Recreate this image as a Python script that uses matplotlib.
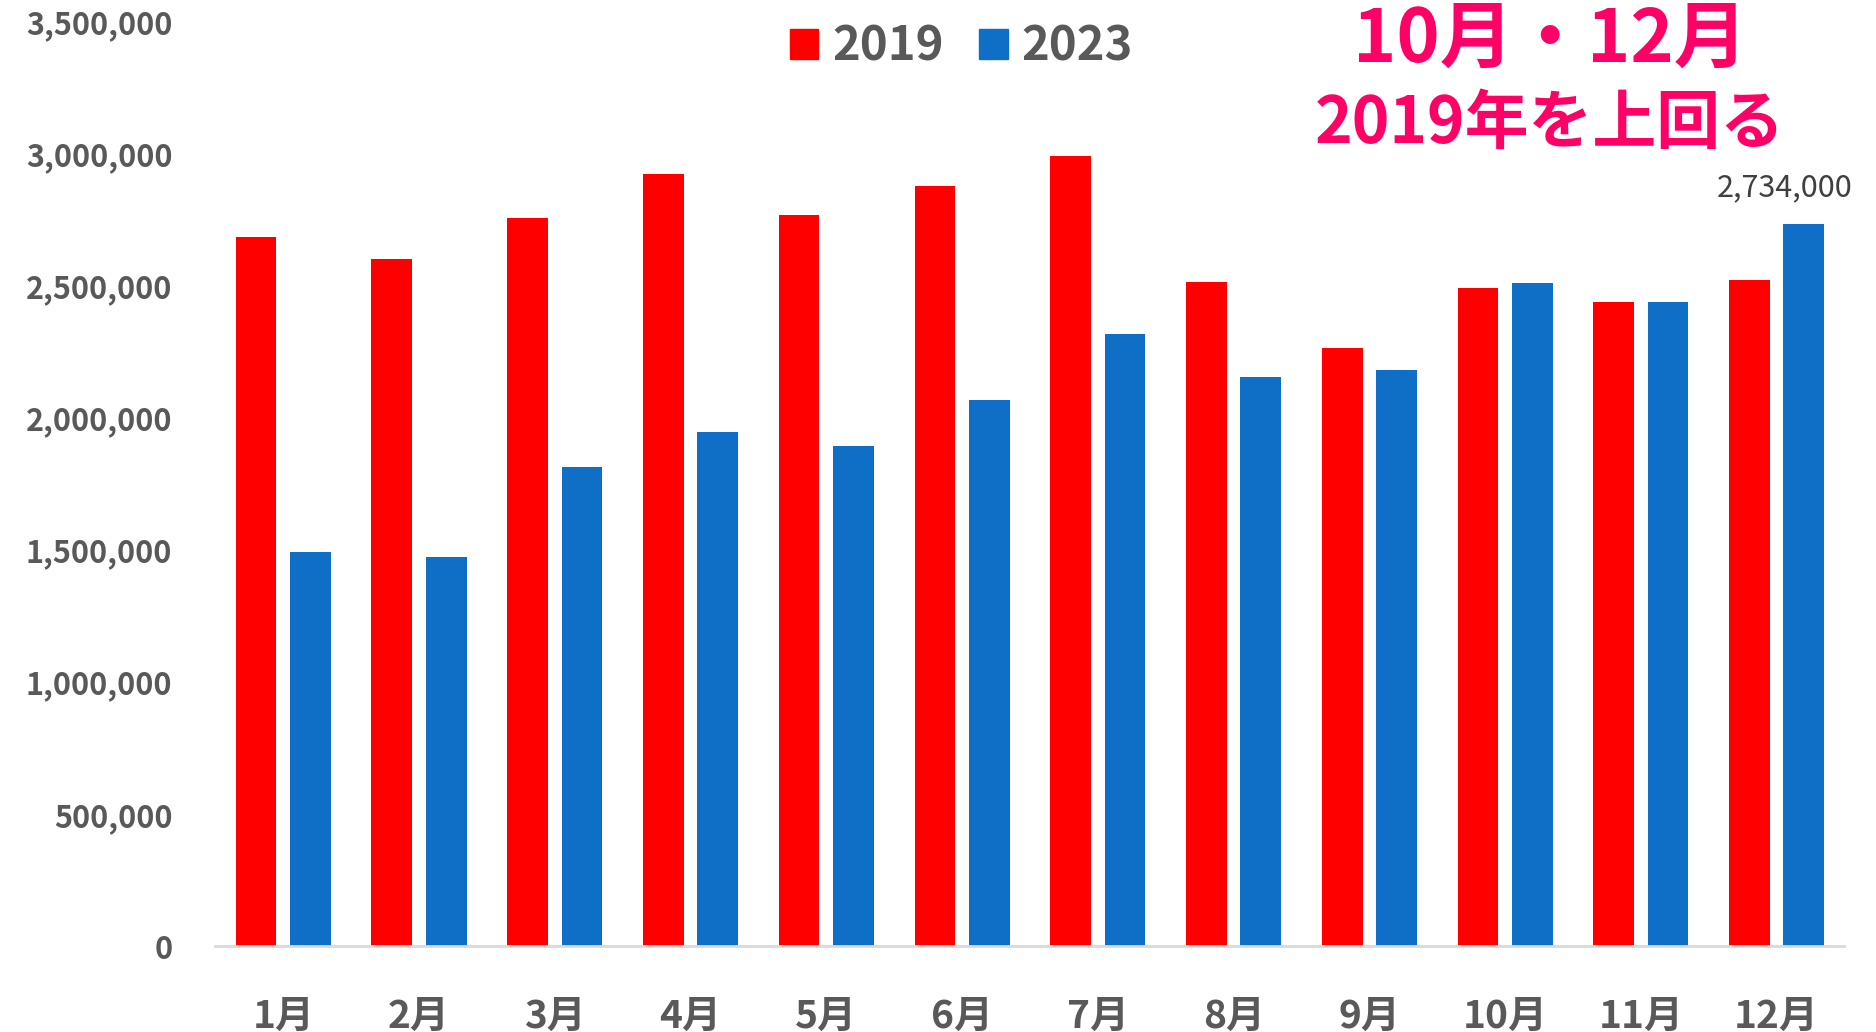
import matplotlib
matplotlib.use("Agg")
import matplotlib.pyplot as plt
import numpy as np
from matplotlib.ticker import FuncFormatter
from matplotlib.patches import Patch

plt.rcParams['font.family'] = ['Noto Sans CJK JP', 'DejaVu Sans']

months = ["1月", "2月", "3月", "4月", "5月", "6月", "7月", "8月", "9月", "10月", "11月", "12月"]
series_names = ["2019", "2023"]
values_2019 = [2684000, 2600000, 2755000, 2922000, 2768000, 2876000, 2990000, 2515000, 2266000, 2493000, 2437000, 2523000]
values_2023 = [1493000, 1474000, 1814000, 1945000, 1895000, 2068000, 2316000, 2153000, 2180000, 2511000, 2437000, 2734000]
yticks = [0, 500000, 1000000, 1500000, 2000000, 2500000, 3000000, 3500000]
annotation_line1 = "10月・12月"
annotation_line2 = "2019年を上回る"

RED = "#FF0000"
BLUE = "#0F6FC6"
PINK = "#FF0066"
GRAY = "#595959"

fig = plt.figure(figsize=(18.76, 10.32), dpi=100)
ax = fig.add_axes([0.1148, 0.0829, 0.9832 - 0.1148, 0.9792 - 0.0829])

x = np.arange(len(months))
w = 0.3
ax.bar(x - 0.2, values_2019, width=w, color=RED, zorder=2)
ax.bar(x + 0.2, values_2023, width=w, color=BLUE, zorder=2)

ax.set_xlim(-0.5, 11.5)
ax.set_ylim(0, 3500000)
ax.set_yticks(yticks)
ax.yaxis.set_major_formatter(FuncFormatter(lambda v, p: f"{int(v):,}"))
ax.set_xticks(x)
ax.set_xticklabels(months)

for s in ["top", "right", "left"]:
    ax.spines[s].set_visible(False)
ax.spines["bottom"].set_color("#D9D9D9")
ax.spines["bottom"].set_linewidth(2)

ax.tick_params(axis="y", length=0, pad=31, labelsize=22, labelcolor=GRAY)
ax.tick_params(axis="x", length=0, pad=36, labelsize=28, labelcolor=GRAY)
for lab in ax.get_yticklabels() + ax.get_xticklabels():
    lab.set_fontweight("bold")

# data label on last 2023 bar
ax.annotate(f"{values_2023[-1]:,}", xy=(x[-1] + 0.2, values_2023[-1]),
            xytext=(-14, 15), textcoords="offset points", ha="center", va="bottom",
            fontsize=22, color="#404040")

# legend
handles = [Patch(color=RED, label=series_names[0]), Patch(color=BLUE, label=series_names[1])]
leg = fig.legend(handles=handles, loc="center", bbox_to_anchor=(0.5125, 0.955), ncol=2,
                 frameon=False, handlelength=0.6, handleheight=0.6, handletextpad=0.3,
                 columnspacing=0.75, prop={"size": 34, "weight": "bold"})
for t in leg.get_texts():
    t.set_color(GRAY)

fig.text(1550 / 1876, 1 - 40 / 1032, annotation_line1, ha="center", va="center",
         fontsize=53, fontweight="bold", color=PINK)
fig.text(1550 / 1876, 1 - 124 / 1032, annotation_line2, ha="center", va="center",
         fontsize=46, fontweight="bold", color=PINK)

fig.savefig("out.png", dpi=100)
